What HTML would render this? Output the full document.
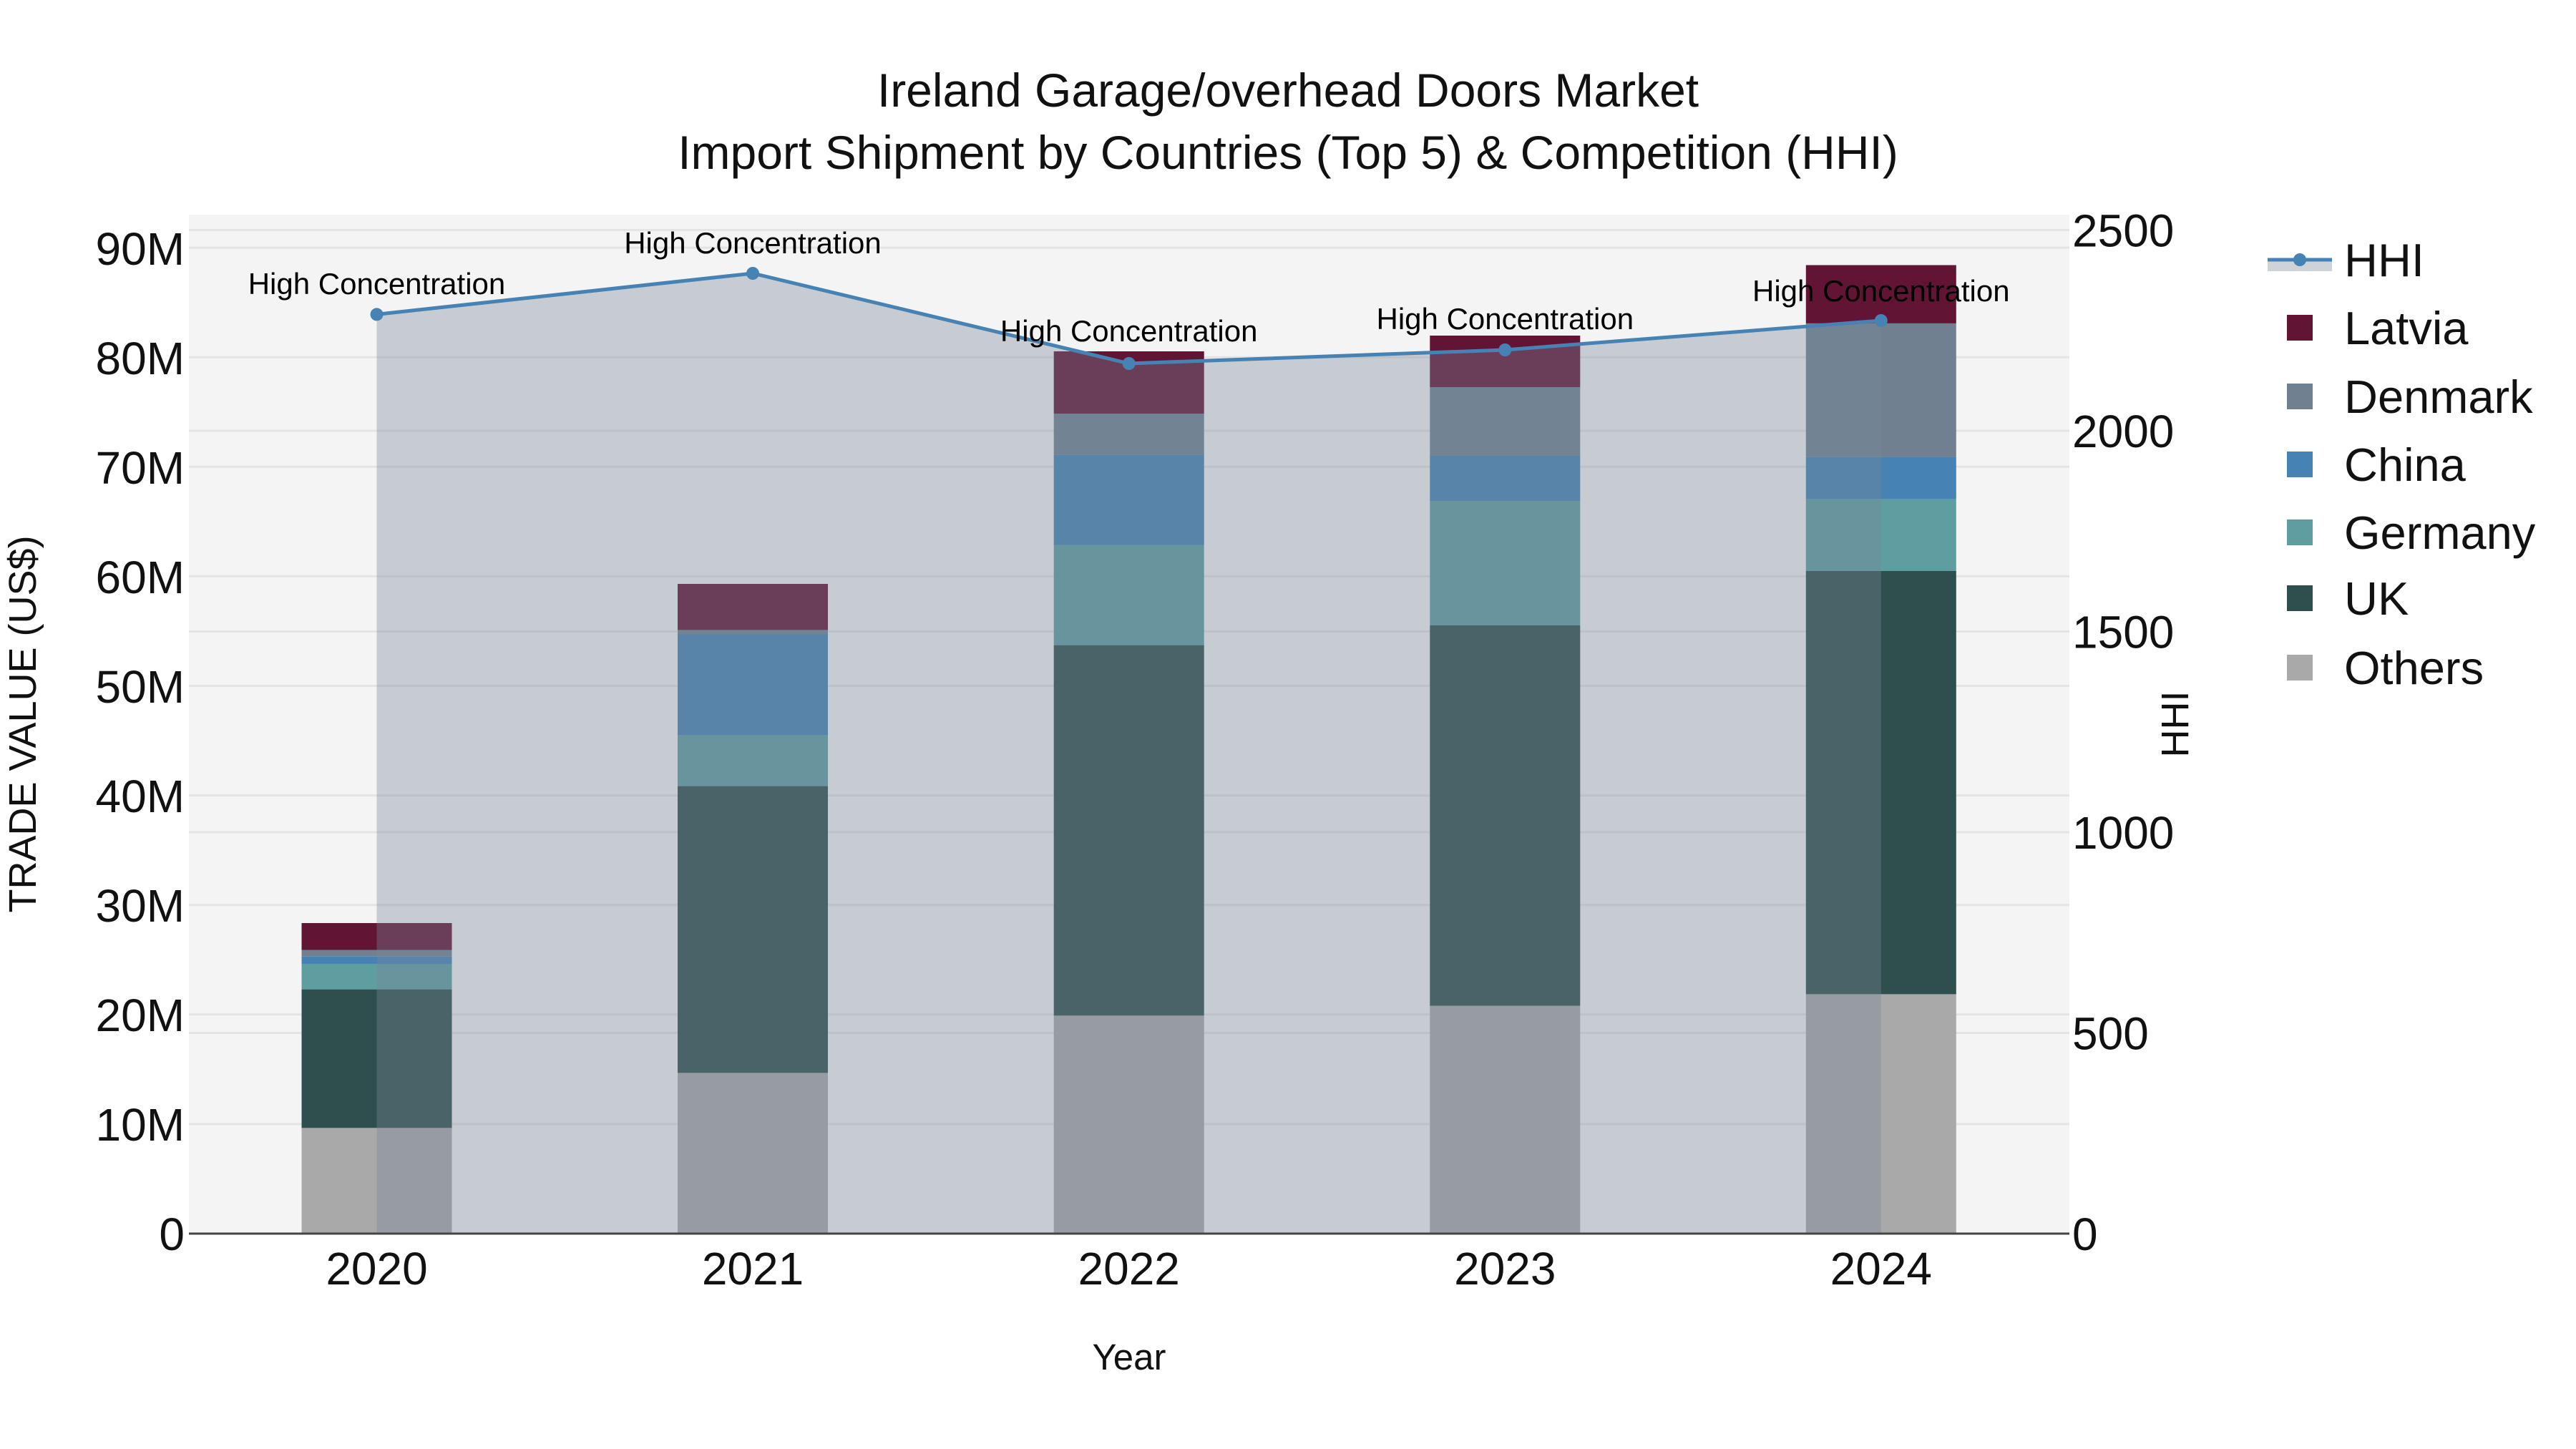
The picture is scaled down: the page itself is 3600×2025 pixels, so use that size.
<!DOCTYPE html>
<html><head><meta charset="utf-8"><style>
html,body{margin:0;padding:0;background:#fff}
svg{display:block;font-family:"Liberation Sans",Arial,sans-serif}
</style></head><body>
<svg width="3600" height="2025" viewBox="0 0 3600 2025" xmlns="http://www.w3.org/2000/svg">
<rect x="0" y="0" width="3600" height="2025" fill="#fff"/>
<rect x="264" y="300" width="2628" height="1424" fill="#f4f4f4"/>
<g stroke="#e4e4e4" stroke-width="3">
<line x1="264" x2="2892" y1="1570.9" y2="1570.9"/>
<line x1="264" x2="2892" y1="1417.8" y2="1417.8"/>
<line x1="264" x2="2892" y1="1264.7" y2="1264.7"/>
<line x1="264" x2="2892" y1="1111.6" y2="1111.6"/>
<line x1="264" x2="2892" y1="958.5" y2="958.5"/>
<line x1="264" x2="2892" y1="805.4" y2="805.4"/>
<line x1="264" x2="2892" y1="652.3" y2="652.3"/>
<line x1="264" x2="2892" y1="499.2" y2="499.2"/>
<line x1="264" x2="2892" y1="346.1" y2="346.1"/>
<line x1="264" x2="2892" y1="1443.5" y2="1443.5"/>
<line x1="264" x2="2892" y1="1163" y2="1163"/>
<line x1="264" x2="2892" y1="882.5" y2="882.5"/>
<line x1="264" x2="2892" y1="602" y2="602"/>
<line x1="264" x2="2892" y1="321.5" y2="321.5"/>
</g>
<g>
<rect x="421.5" y="1576.3" width="210" height="147.7" fill="#a9a9a9"/>
<rect x="421.5" y="1382.6" width="210" height="193.7" fill="#2f4f4f"/>
<rect x="421.5" y="1347.4" width="210" height="35.2" fill="#5f9ea0"/>
<rect x="421.5" y="1336.7" width="210" height="10.7" fill="#4682b4"/>
<rect x="421.5" y="1327.5" width="210" height="9.2" fill="#708090"/>
<rect x="421.5" y="1290" width="210" height="37.5" fill="#621435"/>
<rect x="947" y="1499.4" width="210" height="224.6" fill="#a9a9a9"/>
<rect x="947" y="1098.6" width="210" height="400.8" fill="#2f4f4f"/>
<rect x="947" y="1027.4" width="210" height="71.2" fill="#5f9ea0"/>
<rect x="947" y="886.5" width="210" height="140.9" fill="#4682b4"/>
<rect x="947" y="880.4" width="210" height="6.1" fill="#708090"/>
<rect x="947" y="816" width="210" height="64.4" fill="#621435"/>
<rect x="1472.7" y="1419.3" width="210" height="304.7" fill="#a9a9a9"/>
<rect x="1472.7" y="901.6" width="210" height="517.7" fill="#2f4f4f"/>
<rect x="1472.7" y="761.5" width="210" height="140.1" fill="#5f9ea0"/>
<rect x="1472.7" y="635.6" width="210" height="125.9" fill="#4682b4"/>
<rect x="1472.7" y="578" width="210" height="57.6" fill="#708090"/>
<rect x="1472.7" y="491" width="210" height="87" fill="#621435"/>
<rect x="1998.3" y="1405.6" width="210" height="318.4" fill="#a9a9a9"/>
<rect x="1998.3" y="874" width="210" height="531.6" fill="#2f4f4f"/>
<rect x="1998.3" y="700" width="210" height="174" fill="#5f9ea0"/>
<rect x="1998.3" y="637" width="210" height="63" fill="#4682b4"/>
<rect x="1998.3" y="541" width="210" height="96" fill="#708090"/>
<rect x="1998.3" y="469" width="210" height="72" fill="#621435"/>
<rect x="2523.8" y="1389.4" width="210" height="334.6" fill="#a9a9a9"/>
<rect x="2523.8" y="798" width="210" height="591.4" fill="#2f4f4f"/>
<rect x="2523.8" y="697.7" width="210" height="100.3" fill="#5f9ea0"/>
<rect x="2523.8" y="638.4" width="210" height="59.3" fill="#4682b4"/>
<rect x="2523.8" y="451.9" width="210" height="186.5" fill="#708090"/>
<rect x="2523.8" y="370.5" width="210" height="81.4" fill="#621435"/>
</g>
<polygon points="526.5,439.4 1052,382 1577.7,508 2103.3,489 2628.8,448 2628.8,1724 526.5,1724" fill="rgba(119,136,153,0.37)"/>
<polyline points="526.5,439.4 1052,382 1577.7,508 2103.3,489 2628.8,448" fill="none" stroke="#4682b4" stroke-width="5"/>
<g fill="#4682b4">
<circle cx="526.5" cy="439.4" r="9"/><circle cx="1052" cy="382" r="9"/><circle cx="1577.7" cy="508" r="9"/><circle cx="2103.3" cy="489" r="9"/><circle cx="2628.8" cy="448" r="9"/>
</g>
<line x1="264" x2="2892" y1="1724" y2="1724" stroke="#444" stroke-width="3"/>
<g font-size="42" text-anchor="middle" fill="#000">
<text x="526.5" y="411">High Concentration</text>
<text x="1052" y="354">High Concentration</text>
<text x="1577.7" y="477">High Concentration</text>
<text x="2103.3" y="460">High Concentration</text>
<text x="2628.8" y="421">High Concentration</text>
</g>
<g font-size="64" text-anchor="end" fill="#111">
<text x="258" y="1747">0</text>
<text x="258" y="1594">10M</text>
<text x="258" y="1441">20M</text>
<text x="258" y="1288">30M</text>
<text x="258" y="1135">40M</text>
<text x="258" y="982">50M</text>
<text x="258" y="829">60M</text>
<text x="258" y="676">70M</text>
<text x="258" y="523">80M</text>
<text x="258" y="370">90M</text>
</g>
<g font-size="64" text-anchor="start" fill="#111">
<text x="2896" y="1747">0</text>
<text x="2896" y="1466.5">500</text>
<text x="2896" y="1186">1000</text>
<text x="2896" y="905.5">1500</text>
<text x="2896" y="625">2000</text>
<text x="2896" y="344.5">2500</text>
</g>
<g font-size="64" text-anchor="middle" fill="#111">
<text x="526.5" y="1795">2020</text>
<text x="1052" y="1795">2021</text>
<text x="1577.7" y="1795">2022</text>
<text x="2103.3" y="1795">2023</text>
<text x="2628.8" y="1795">2024</text>
</g>
<text x="1578" y="1914" font-size="51" text-anchor="middle" fill="#111">Year</text>
<text transform="translate(50,1012) rotate(-90)" font-size="54" text-anchor="middle" fill="#111">TRADE VALUE (US$)</text>
<text transform="translate(3058,1012) rotate(-90)" font-size="54" text-anchor="middle" fill="#111">HHI</text>
<g font-size="66" text-anchor="middle" fill="#111">
<text x="1800" y="149">Ireland Garage/overhead Doors Market</text>
<text x="1800" y="236">Import Shipment by Countries (Top 5) &amp; Competition (HHI)</text>
</g>
<rect x="3169" y="363" width="90" height="16" fill="rgba(119,136,153,0.37)"/>
<line x1="3169" x2="3259" y1="363" y2="363" stroke="#4682b4" stroke-width="5"/>
<circle cx="3214" cy="363" r="9" fill="#4682b4"/>
<rect x="3196" y="440" width="36" height="36" fill="#621435"/>
<rect x="3196" y="536" width="36" height="36" fill="#708090"/>
<rect x="3196" y="631" width="36" height="36" fill="#4682b4"/>
<rect x="3196" y="726" width="36" height="36" fill="#5f9ea0"/>
<rect x="3196" y="818" width="36" height="36" fill="#2f4f4f"/>
<rect x="3196" y="915" width="36" height="36" fill="#a9a9a9"/>
<g font-size="65" fill="#111">
<text x="3276" y="386">HHI</text>
<text x="3276" y="481">Latvia</text>
<text x="3276" y="577">Denmark</text>
<text x="3276" y="672">China</text>
<text x="3276" y="767">Germany</text>
<text x="3276" y="859">UK</text>
<text x="3276" y="956">Others</text>
</g>
</svg>
</body></html>
